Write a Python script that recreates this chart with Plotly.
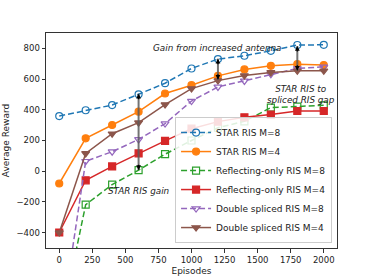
import plotly.graph_objects as go

episodes = [0, 200, 400, 600, 800, 1000, 1200, 1400, 1600, 1800, 2000]
star_m8 = [359, 397, 431, 501, 573, 669, 730, 752, 784, 822, 823]
star_m4 = [-80, 214, 301, 388, 506, 560, 621, 663, 686, 697, 691]
refl_m8 = [-1045, -218, -87, 7, 111, 200, 283, 325, 414, 421, 429]
refl_m4 = [-399, -59, 31, 116, 198, 277, 323, 351, 369, 392, 392]
dbl_m8 = [-1080, 65, 127, 207, 310, 457, 549, 588, 632, 669, 680]
dbl_m4 = [-400, 116, 244, 316, 434, 538, 590, 623, 643, 654, 654]

names = ["STAR RIS M=8", "STAR RIS M=4", "Reflecting-only RIS M=8",
         "Reflecting-only RIS M=4", "Double spliced RIS M=8", "Double spliced RIS M=4"]
series = [star_m8, star_m4, refl_m8, refl_m4, dbl_m8, dbl_m4]
colors = ["#1f77b4", "#ff7f0e", "#2ca02c", "#d62728", "#9467bd", "#8c564b"]
symbols = ["circle-open", "circle", "square-open", "square", "triangle-down-open", "triangle-down"]
dashes = ["6px,3px", "solid", "6px,3px", "solid", "6px,3px", "solid"]

FONT = "DejaVu Sans"
fig = go.Figure()
for n, s, c, sym, d in zip(names, series, colors, symbols, dashes):
    fig.add_trace(go.Scatter(
        x=episodes, y=s, name=n, mode="lines+markers",
        line=dict(color=c, width=1.5, dash=d),
        marker=dict(symbol=sym, size=7, color=c, line=dict(color=c, width=1.2)),
    ))

# gap arrows: (x, top, bottom)
arrows = [(600, 505, 7), (1200, 733, 595), (1800, 815, 654)]
shapes = []
annotations = []
for xa, top, bot in arrows:
    shapes.append(dict(type="line", xref="x", yref="y", x0=xa, x1=xa, y0=bot, y1=top,
                       line=dict(color="rgba(90,90,90,0.85)", width=2)))
    annotations.append(dict(x=xa, y=top, xref="x", yref="y", ax=0, ay=7, showarrow=True,
                            arrowhead=2, arrowsize=0.8, arrowwidth=1.2, arrowcolor="black",
                            standoff=0, text=""))
    annotations.append(dict(x=xa, y=bot, xref="x", yref="y", ax=0, ay=-7, showarrow=True,
                            arrowhead=2, arrowsize=0.8, arrowwidth=1.2, arrowcolor="black",
                            standoff=0, text=""))

texts = [(1200, 800, "<i>Gain from increased antenna</i>"),
         (1830, 500, "<i>STAR RIS to<br>spliced RIS gap</i>"),
         (600, -130, "<i>STAR RIS gain</i>")]
for xt, yt, t in texts:
    annotations.append(dict(x=xt, y=yt, xref="x", yref="y", text=t, showarrow=False,
                            font=dict(family=FONT, size=8.8, color="#222")))

axis_common = dict(showline=True, linecolor="#333", linewidth=1, mirror=True,
                   ticks="outside", ticklen=3.5, tickcolor="#333", showgrid=False,
                   zeroline=False, automargin=False,
                   tickfont=dict(family=FONT, size=8.5, color="#222"))

fig.update_layout(
    width=374, height=279,
    margin=dict(l=46, r=37, t=33, b=31),
    paper_bgcolor="white", plot_bgcolor="white",
    font=dict(family=FONT, size=8.5, color="#222"),
    xaxis=dict(range=[-100, 2100], tickvals=[0, 250, 500, 750, 1000, 1250, 1500, 1750, 2000],
               title=dict(text="Episodes", font=dict(family=FONT, size=9), standoff=3),
               **axis_common),
    yaxis=dict(range=[-500, 900], tickvals=[-400, -200, 0, 200, 400, 600, 800],
               title=dict(text="Average Reward", font=dict(family=FONT, size=9), standoff=5),
               **axis_common),
    legend=dict(x=0.983, y=0.023, xanchor="right", yanchor="bottom",
                bgcolor="rgba(255,255,255,0.85)", bordercolor="#ccc", borderwidth=1,
                font=dict(family=FONT, size=9), tracegroupgap=0, itemwidth=30),
    shapes=shapes, annotations=annotations, showlegend=True,
)

fig.write_html("out.html", config={"displayModeBar": False},
               post_script="document.body.style.margin='0';")
